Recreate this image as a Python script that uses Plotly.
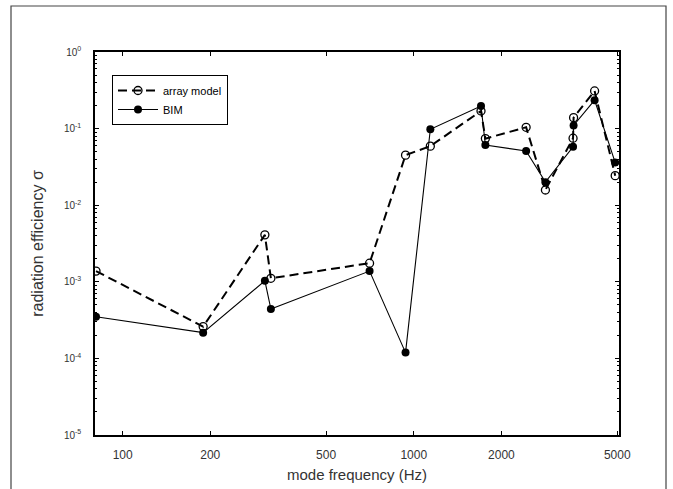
import plotly.graph_objects as go

freq = [81, 189, 308, 323, 705, 937, 1140, 1702, 1762, 2432, 2833, 3525, 3540, 4180, 4920]
array_model = [1.38e-3, 2.6e-4, 4.1e-3, 1.11e-3, 1.75e-3, 4.5e-2, 5.9e-2, 0.17, 0.074, 0.104,
               0.0158, 0.075, 0.139, 0.31, 0.0243]
bim = [3.5e-4, 2.17e-4, 1.03e-3, 4.4e-4, 1.38e-3, 1.19e-4, 9.8e-2, 0.197, 0.061, 0.051,
       0.020, 0.058, 0.110, 0.235, 0.036]

x_tickvals = [100, 200, 500, 1000, 2000, 5000]
x_ticktext = ["100", "200", "500", "1000", "2000", "5000"]
y_tickvals = [1, 1e-1, 1e-2, 1e-3, 1e-4, 1e-5]
y_ticktext = ["10<sup>0</sup>", "10<sup>-1</sup>", "10<sup>-2</sup>", "10<sup>-3</sup>",
              "10<sup>-4</sup>", "10<sup>-5</sup>"]

W, H = 673, 489
L, R, T, B = 95, 54, 52, 54
pw, ph = W - L - R, H - T - B

fig = go.Figure()
fig.add_trace(go.Scatter(
    x=freq, y=array_model, name="array model", mode="lines+markers",
    line=dict(color="black", width=2, dash="9px,5px"),
    marker=dict(symbol="circle-open", size=8, color="black", line=dict(width=1.3, color="black")),
))
fig.add_trace(go.Scatter(
    x=freq, y=bim, name="BIM", mode="lines+markers",
    line=dict(color="black", width=1.1),
    marker=dict(symbol="circle", size=8, color="black"),
))

font_fam = "Liberation Sans, Arial, sans-serif"
axis_common = dict(
    showline=True, linecolor="black", linewidth=1.5, mirror="allticks",
    ticks="inside", ticklen=4, tickcolor="black", showgrid=False, zeroline=False,
    automargin=False,
)
fig.update_xaxes(
    type="log", range=[1.905, 3.705], tickvals=x_tickvals, ticktext=x_ticktext,
    tickfont=dict(family=font_fam, size=12, color="#333"), ticklabelstandoff=8,
    title=dict(text="mode frequency (Hz)", font=dict(family=font_fam, size=15, color="#333"), standoff=8),
    **axis_common,
)
fig.update_yaxes(
    type="log", range=[-5, 0], tickvals=y_tickvals, ticktext=y_ticktext,
    tickfont=dict(family=font_fam, size=10, color="#333"), ticklabelstandoff=10,
    title=dict(text="radiation efficiency σ", font=dict(family=font_fam, size=16, color="#333"), standoff=16),
    minor=dict(ticks="inside", ticklen=2, tickcolor="black", dtick="D1"),
    **axis_common,
)

# outer frame
fig.add_shape(type="rect", xref="paper", yref="paper",
              x0=(11 - L) / pw, x1=(666 - L) / pw,
              y0=-(H + 10 - (H - B)) / ph, y1=1 + (T - 6) / ph,
              line=dict(color="#444", width=1.2), layer="below")

fig.update_layout(
    width=W, height=H, margin=dict(l=L, r=R, t=T, b=B),
    paper_bgcolor="white", plot_bgcolor="white",
    showlegend=True,
    legend=dict(x=(112 - L) / pw, y=1 - (75 - T) / ph, xanchor="left", yanchor="top",
                bordercolor="black", borderwidth=1, bgcolor="white",
                font=dict(family=font_fam, size=11, color="black"),
                tracegroupgap=0, itemwidth=40),
)
fig.write_html("out.html")
